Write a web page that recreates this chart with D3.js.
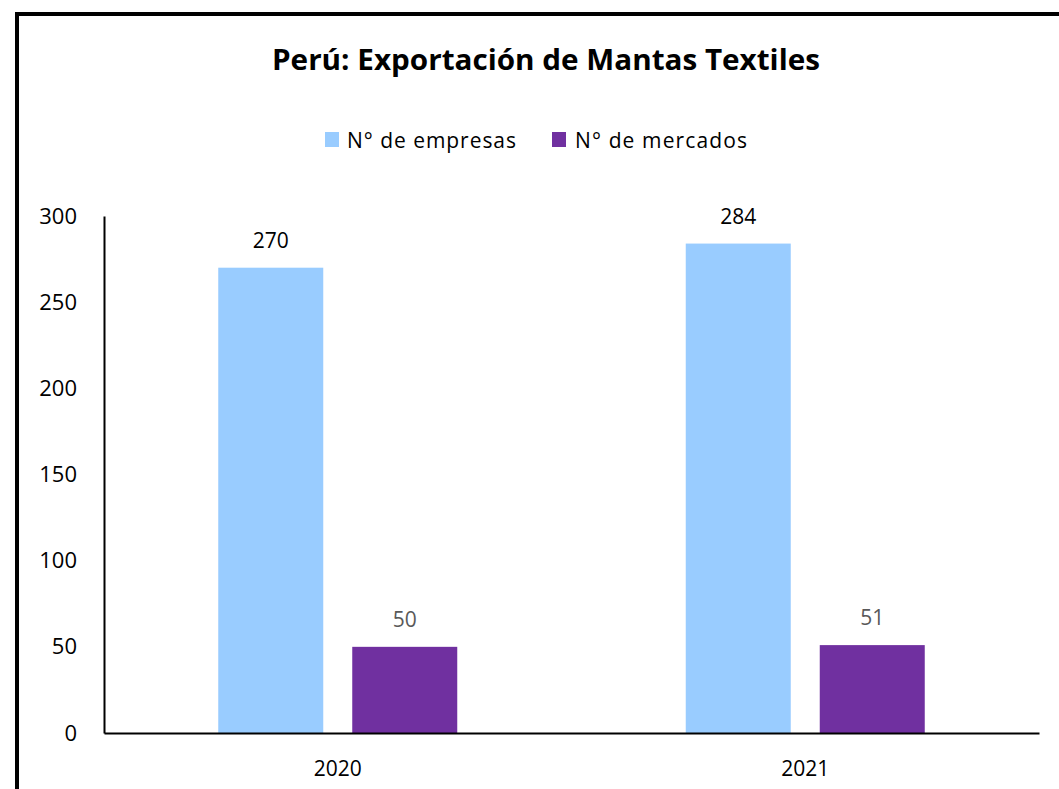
<!DOCTYPE html>
<html><head><meta charset="utf-8">
<script src="https://cdn.jsdelivr.net/npm/d3@7"></script>
<style>body{margin:0;background:#fff;}svg{display:block;}</style>
</head><body>
<script>
const categories = ["2020", "2021"];
const seriesNames = ["N° de empresas", "N° de mercados"];
const empresas = [270, 284];
const mercados = [50, 51];
const yTicks = [0, 50, 100, 150, 200, 250, 300];
const colors = ["#99CCFF", "#7030A0"];
const labelColors = ["#000000", "#595959"];

const W = 1059, H = 789;
const svg = d3.select("body").append("svg").attr("width", W).attr("height", H);
const font = "'Open Sans', 'Liberation Sans', sans-serif";

svg.append("rect").attr("x", 17).attr("y", 14).attr("width", 1100).attr("height", 900)
  .attr("fill", "#fff").attr("stroke", "#000").attr("stroke-width", 4);

svg.append("text").attr("x", 546).attr("y", 70).attr("text-anchor", "middle")
  .attr("font-family", font).attr("font-weight", "bold").attr("font-size", 29)
  .attr("textLength", 548).attr("lengthAdjust", "spacingAndGlyphs")
  .text("Perú: Exportación de Mantas Textiles");

const m = {left: 104, right: 1039, top: 216, bottom: 733};
const x0 = d3.scaleBand().domain(categories).range([m.left, m.right]).paddingInner(0).paddingOuter(0);
const y = d3.scaleLinear().domain([0, 300]).range([m.bottom, m.top]);
const data = categories.map((c, i) => ({cat: c, vals: [empresas[i], mercados[i]]}));

const barW = 105, gap = 29;
const offsets = [-(gap / 2 + barW), gap / 2];

const g = svg.append("g");
data.forEach(d => {
  const cx = x0(d.cat) + x0.bandwidth() / 2;
  d.vals.forEach((v, s) => {
    g.append("rect").attr("x", cx + offsets[s]).attr("y", y(v))
      .attr("width", barW).attr("height", y(0) - y(v)).attr("fill", colors[s]);
    g.append("text").attr("x", cx + offsets[s] + barW / 2).attr("y", y(v) - 20)
      .attr("text-anchor", "middle").attr("font-family", font).attr("font-size", 21)
      .attr("fill", labelColors[s]).text(v);
  });
});

// y axis
const yAxis = d3.axisLeft(y).tickValues(yTicks).tickSize(0).tickPadding(27);
const ya = svg.append("g").attr("transform", `translate(${m.left},0)`).call(yAxis);
ya.select(".domain").attr("stroke", "#000").attr("stroke-width", 2);
ya.selectAll("text").attr("font-family", font).attr("font-size", 22).attr("fill", "#000");

// x axis
const xAxis = d3.axisBottom(x0).tickSize(0).tickPadding(28);
const xa = svg.append("g").attr("transform", `translate(0,${m.bottom})`).call(xAxis);
xa.select(".domain").attr("stroke", "#000").attr("stroke-width", 2);
xa.selectAll("text").attr("font-family", font).attr("font-size", 21).attr("fill", "#000");

// legend
const legendItems = [{x: 325, tx: 347, len: 169}, {x: 552, tx: 575, len: 172}];
seriesNames.forEach((n, i) => {
  svg.append("rect").attr("x", legendItems[i].x).attr("y", 132).attr("width", 14).attr("height", 15).attr("fill", colors[i]);
  svg.append("text").attr("x", legendItems[i].tx).attr("y", 148).attr("font-family", font)
    .attr("font-size", 21).attr("fill", "#000")
    .attr("textLength", legendItems[i].len).attr("lengthAdjust", "spacing").text(n);
});
</script>
</body></html>
